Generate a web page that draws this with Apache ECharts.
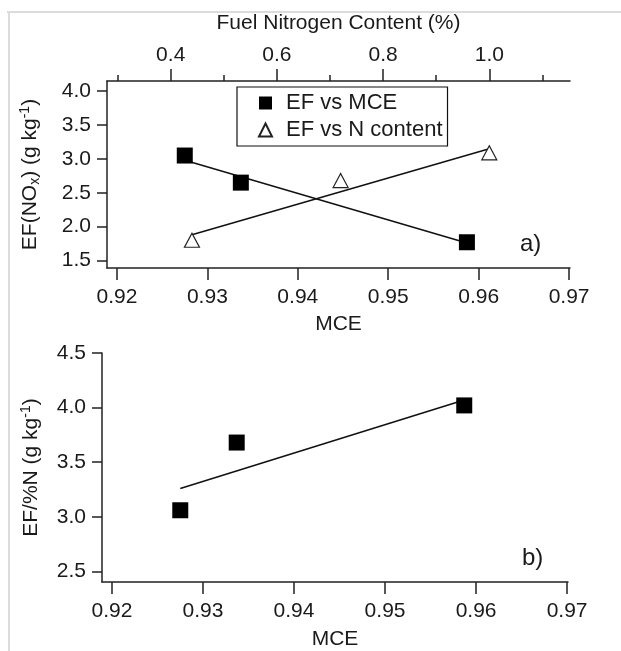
<!DOCTYPE html>
<html><head><meta charset="utf-8">
<script src="https://cdn.jsdelivr.net/npm/echarts@6/dist/echarts.min.js"></script>
<style>html,body{margin:0;padding:0;background:#fff}#c{width:621px;height:651px}</style>
</head><body><div id="c"></div>
<script>
// ---- data ----
const mce = [0.9275, 0.9337, 0.9587];
const efNOx = [3.05, 2.65, 1.77];
const nContent = [0.44, 0.72, 1.00];
const efNOxByN = [1.80, 2.68, 3.09];
const efPerN = [3.06, 3.68, 4.02];
const fitMceX = [0.9275, 0.9587];
const fitMceY = [2.98, 1.76];
const fitNX = [0.44, 1.00];
const fitNY = [1.88, 3.15];
const fitBX = [0.9275, 0.9587];
const fitBY = [3.26, 4.07];
const mceTicks = [0.92, 0.93, 0.94, 0.95, 0.96, 0.97];
const nMajorTicks = [0.4, 0.6, 0.8, 1.0];
const nMinorTicks = [0.3, 0.5, 0.7, 0.9, 1.1];
const yTicksA = [1.5, 2.0, 2.5, 3.0, 3.5, 4.0];
const yTicksB = [2.5, 3.0, 3.5, 4.0, 4.5];

const FF = "'Liberation Sans', Arial, Helvetica, sans-serif";
const TC = '#1a1a1a';
const LC = '#222';
const FS = 21;

function zip(a, b) { return a.map((v, i) => [v, b[i]]); }

const chart = echarts.init(document.getElementById('c'), null, {renderer: 'canvas'});

function xAx(opt) {
  return Object.assign({
    type: 'value', scale: true,
    axisLine: {show: true, lineStyle: {color: LC, width: 1.5}},
    splitLine: {show: false},
    axisLabel: {color: TC, fontSize: FS, fontFamily: FF, margin: 19},
    axisTick: {show: true, inside: false, length: 12, lineStyle: {color: LC, width: 1.5}},
    nameTextStyle: {color: TC, fontSize: FS, fontFamily: FF},
    nameLocation: 'middle'
  }, opt);
}

const option = {
  backgroundColor: '#fff',
  animation: false,
  grid: [
    {left: 107, top: 81, width: 463, height: 187},
    {left: 102, top: 353, width: 466, height: 232}
  ],
  legend: {
    left: 237, top: 87,
    orient: 'vertical',
    data: ['EF vs MCE', 'EF vs N content'],
    itemWidth: 13, itemHeight: 13, itemGap: 5,
    padding: [5, 5, 5, 21],
    borderColor: '#111', borderWidth: 1.2, borderRadius: 0,
    backgroundColor: '#fff',
    textStyle: {color: TC, fontSize: 22, fontFamily: FF, padding: [0, 0, 0, 9]}
  },
  xAxis: [
    xAx({gridIndex: 0, position: 'bottom', min: 0.9189, max: 0.9701,
      name: 'MCE', nameGap: 46,
      axisLabel: {color: TC, fontSize: FS, fontFamily: FF, margin: 19, customValues: mceTicks, formatter: v => v.toFixed(2)},
      axisTick: {show: true, length: 12, customValues: mceTicks, lineStyle: {color: LC, width: 1.5}}}),
    xAx({gridIndex: 0, position: 'top', min: 0.28, max: 1.152,
      name: 'Fuel Nitrogen Content (%)', nameGap: 47,
      axisLabel: {color: TC, fontSize: FS, fontFamily: FF, margin: 15, customValues: nMajorTicks, formatter: v => v.toFixed(1)},
      axisTick: {show: true, length: 12, customValues: nMajorTicks, lineStyle: {color: LC, width: 1.5}}}),
    xAx({gridIndex: 0, position: 'top', min: 0.28, max: 1.152,
      axisLine: {show: false},
      axisLabel: {show: false},
      axisTick: {show: true, length: 6, customValues: nMinorTicks, lineStyle: {color: LC, width: 1.5}}}),
    xAx({gridIndex: 1, position: 'bottom', min: 0.9189, max: 0.9701,
      name: 'MCE', nameGap: 47,
      axisLabel: {color: TC, fontSize: FS, fontFamily: FF, margin: 19, customValues: mceTicks, formatter: v => v.toFixed(2)},
      axisTick: {show: true, length: 12, customValues: mceTicks, lineStyle: {color: LC, width: 1.5}}})
  ],
  yAxis: [
    {type: 'value', gridIndex: 0, min: 1.39, max: 4.15,
      axisLine: {show: true, lineStyle: {color: LC, width: 1.5}},
      splitLine: {show: false},
      axisTick: {show: true, length: 10, customValues: yTicksA, lineStyle: {color: LC, width: 1.5}},
      axisLabel: {color: TC, fontSize: FS, fontFamily: FF, margin: 16, customValues: yTicksA, formatter: v => v.toFixed(1)},
      name: '{t|EF(NO}{sub|x}{t|) (g kg}{sup|-1}{t|)}',
      nameLocation: 'middle', nameGap: 64,
      nameTextStyle: {color: TC, fontSize: FS, fontFamily: FF, rich: {
        t: {fontSize: FS, fontFamily: FF, color: TC},
        sub: {fontSize: 14, fontFamily: FF, color: TC, padding: [10, 0, 0, 0]},
        sup: {fontSize: 14, fontFamily: FF, color: TC, padding: [0, 0, 11, 0]}
      }}
    },
    {type: 'value', gridIndex: 1, min: 2.403, max: 4.5,
      axisLine: {show: true, lineStyle: {color: LC, width: 1.5}},
      splitLine: {show: false},
      axisTick: {show: true, length: 10, customValues: yTicksB, lineStyle: {color: LC, width: 1.5}},
      axisLabel: {color: TC, fontSize: FS, fontFamily: FF, margin: 16, customValues: yTicksB, formatter: v => v.toFixed(1)},
      name: '{t|EF/%N (g kg}{sup|-1}{t|)}',
      nameLocation: 'middle', nameGap: 58,
      nameTextStyle: {color: TC, fontSize: FS, fontFamily: FF, rich: {
        t: {fontSize: FS, fontFamily: FF, color: TC},
        sup: {fontSize: 14, fontFamily: FF, color: TC, padding: [0, 0, 11, 0]}
      }}
    }
  ],
  series: [
    {name: 'fitA', type: 'line', xAxisIndex: 0, yAxisIndex: 0, data: zip(fitMceX, fitMceY),
      showSymbol: false, symbol: 'none', lineStyle: {color: '#111', width: 1.5}, z: 2, silent: true},
    {name: 'fitN', type: 'line', xAxisIndex: 1, yAxisIndex: 0, data: zip(fitNX, fitNY),
      showSymbol: false, symbol: 'none', lineStyle: {color: '#111', width: 1.5}, z: 2, silent: true},
    {name: 'EF vs MCE', type: 'scatter', xAxisIndex: 0, yAxisIndex: 0, data: zip(mce, efNOx),
      symbol: 'rect', symbolSize: 16, itemStyle: {color: '#000', opacity: 1}, z: 3},
    {name: 'EF vs N content', type: 'scatter', xAxisIndex: 1, yAxisIndex: 0, data: zip(nContent, efNOxByN),
      symbol: 'triangle', symbolSize: [15, 14], itemStyle: {color: '#fff', borderColor: '#222', borderWidth: 1.2, opacity: 1}, z: 3},
    {name: 'fitB', type: 'line', xAxisIndex: 3, yAxisIndex: 1, data: zip(fitBX, fitBY),
      showSymbol: false, symbol: 'none', lineStyle: {color: '#111', width: 1.5}, z: 2, silent: true},
    {name: 'EF/%N', type: 'scatter', xAxisIndex: 3, yAxisIndex: 1, data: zip(mce, efPerN),
      symbol: 'rect', symbolSize: 16, itemStyle: {color: '#000', opacity: 1}, z: 3}
  ],
  graphic: [
    {type: 'line', shape: {x1: 7, y1: 12, x2: 621, y2: 12}, style: {stroke: '#dcdcdc', lineWidth: 2}, silent: true},
    {type: 'line', shape: {x1: 9, y1: 12, x2: 9, y2: 651}, style: {stroke: '#dcdcdc', lineWidth: 2}, silent: true},
    {type: 'text', left: 520, top: 232, style: {text: 'a)', fontSize: 24, fontFamily: FF, fill: TC}},
    {type: 'text', left: 522, top: 546, style: {text: 'b)', fontSize: 24, fontFamily: FF, fill: TC}}
  ]
};
chart.setOption(option);
</script>
</body></html>
